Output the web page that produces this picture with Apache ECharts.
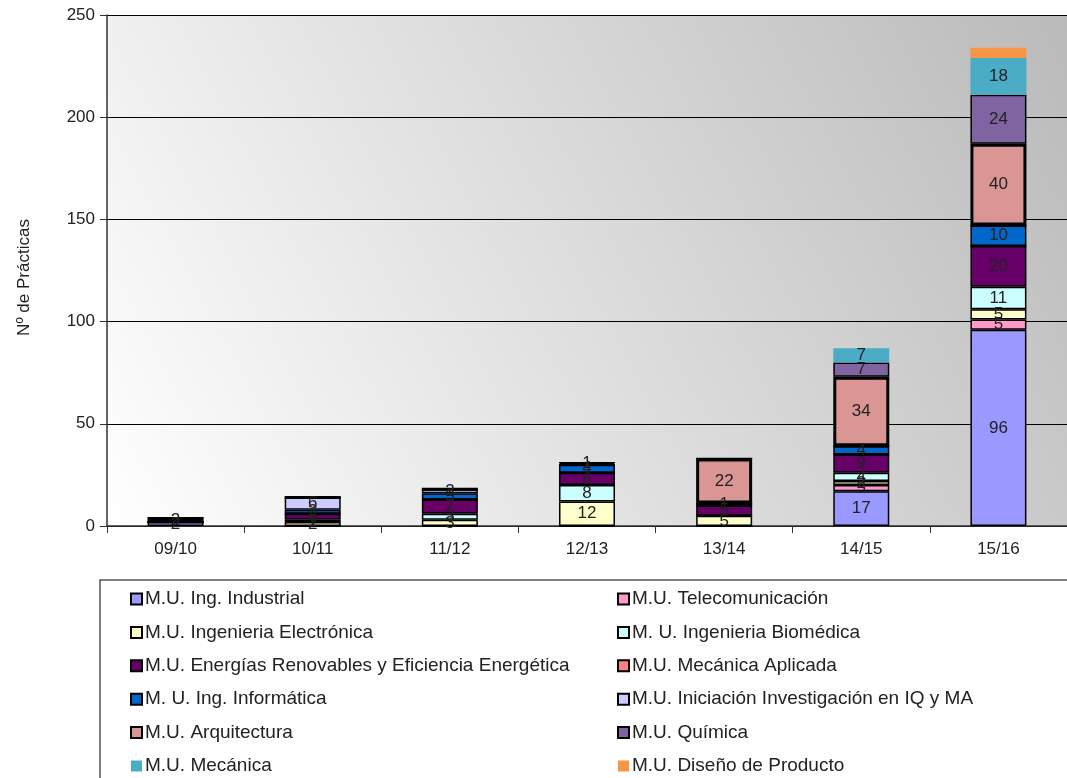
<!DOCTYPE html>
<html>
<head>
<meta charset="utf-8">
<script src="https://cdn.jsdelivr.net/npm/echarts@6/dist/echarts.min.js"></script>
<style>
  html, body { margin: 0; padding: 0; background: #fff; }
  #chart { width: 1067px; height: 778px; }
</style>
</head>
<body>
<div id="chart"></div>
<script>
// cursos
var cursos = ['09/10', '10/11', '11/12', '12/13', '13/14', '14/15', '15/16'];
var yTicks = [0, 50, 100, 150, 200, 250];

// practicas por master (orden de apilado)
var ingIndustrial   = [2, 0, 0, 0, 0, 17, 96];
var telecom         = [0, 0, 0, 0, 0, 3, 5];
var electronica     = [0, 2, 3, 12, 5, 2, 5];
var biomedica       = [0, 1, 3, 8, 0, 4, 11];
var energias        = [0, 3, 7, 6, 5, 9, 20];
var mecAplicada     = [0, 0, 0, 0, 0, 0, 0];
var informatica     = [0, 2, 3, 4, 1, 4, 10];
var iniciacion      = [0, 6, 2, 0, 0, 0, 0];
var arquitectura    = [2, 0, 0, 1, 22, 34, 40];
var quimica         = [0, 0, 0, 0, 0, 7, 24];
var mecanica        = [0, 0, 0, 0, 0, 7, 18];
var diseno          = [0, 0, 0, 0, 0, 0, 5];

var fuente = 'Liberation Sans';

function serie(nombre, datos, color, borde, etiqueta) {
    return {
        name: nombre,
        type: 'bar',
        stack: 'total',
        barWidth: 56,
        data: datos,
        itemStyle: {
            color: color,
            borderColor: '#000',
            borderWidth: borde
        },
        label: {
            show: etiqueta,
            position: 'inside',
            color: '#222',
            fontFamily: fuente,
            fontSize: 17,
            formatter: function (p) { return p.value ? p.value : ''; }
        }
    };
}

var leyendaBase = {
    orient: 'vertical',
    top: 584,
    height: 300,
    icon: 'rect',
    itemWidth: 11, itemHeight: 11, itemGap: 13.4,
    textStyle: { fontSize: 19, color: '#222', lineHeight: 20, padding: [0, 0, 0, -2] }
};

var chart = echarts.init(document.getElementById('chart'));
var option = {
    animation: false,
    textStyle: { fontFamily: fuente },
    grid: {
        left: 107, right: -10, top: 15, bottom: 252,
        show: true,
        borderWidth: 0,
        backgroundColor: new echarts.graphic.LinearGradient(0, 1, 1, 0, [
            { offset: 0, color: '#ffffff' },
            { offset: 1, color: '#bababa' }
        ])
    },
    legend: [
        Object.assign({}, leyendaBase, {
            left: 125,
            data: ['M.U. Ing. Industrial', 'M.U. Ingenieria Electrónica',
                   'M.U. Energías Renovables y Eficiencia Energética', 'M. U. Ing. Informática',
                   'M.U. Arquitectura', 'M.U. Mecánica']
        }),
        Object.assign({}, leyendaBase, {
            left: 612,
            data: ['M.U. Telecomunicación', 'M. U. Ingenieria Biomédica',
                   'M.U. Mecánica Aplicada', 'M.U. Iniciación Investigación en IQ y MA',
                   'M.U. Química', 'M.U. Diseño de Producto']
        })
    ],
    graphic: [
        {
            type: 'rect',
            shape: { x: 100, y: 580, width: 1000, height: 260 },
            style: { fill: 'none', stroke: '#555', lineWidth: 1.5 },
            silent: true
        }
    ],
    xAxis: {
        type: 'category',
        data: cursos,
        axisLine: { lineStyle: { color: '#333', width: 1.5 } },
        axisTick: { show: true, length: 7, lineStyle: { color: '#333' } },
        axisLabel: { fontSize: 17, color: '#222', margin: 15 }
    },
    yAxis: {
        type: 'value',
        min: yTicks[0],
        max: yTicks[yTicks.length - 1],
        interval: 50,
        name: 'Nº de Prácticas',
        nameLocation: 'middle',
        nameGap: 74,
        nameTextStyle: { fontSize: 17, color: '#222', padding: [0, 0, 0, -14] },
        axisLine: { show: true, lineStyle: { color: '#333', width: 1.5 } },
        axisTick: { show: true, length: 7, lineStyle: { color: '#333' } },
        axisLabel: { fontSize: 17, color: '#222', margin: 12 },
        splitLine: { lineStyle: { color: '#000', width: 1 } }
    },
    series: [
        serie('M.U. Ing. Industrial', ingIndustrial, '#9999ff', 1.5, true),
        serie('M.U. Telecomunicación', telecom, '#ff99cc', 1.5, true),
        serie('M.U. Ingenieria Electrónica', electronica, '#ffffcc', 1.5, true),
        serie('M. U. Ingenieria Biomédica', biomedica, '#ccffff', 1.5, true),
        serie('M.U. Energías Renovables y Eficiencia Energética', energias, '#660066', 1.5, true),
        serie('M.U. Mecánica Aplicada', mecAplicada, '#ff8080', 1.5, true),
        serie('M. U. Ing. Informática', informatica, '#0066cc', 1.5, true),
        serie('M.U. Iniciación Investigación en IQ y MA', iniciacion, '#ccccff', 1.5, true),
        serie('M.U. Arquitectura', arquitectura, '#d99694', 3, true),
        serie('M.U. Química', quimica, '#8064a2', 1.5, true),
        serie('M.U. Mecánica', mecanica, '#4bacc6', 0, true),
        serie('M.U. Diseño de Producto', diseno, '#f79646', 0, false)
    ]
};
chart.setOption(option);
</script>
</body>
</html>
